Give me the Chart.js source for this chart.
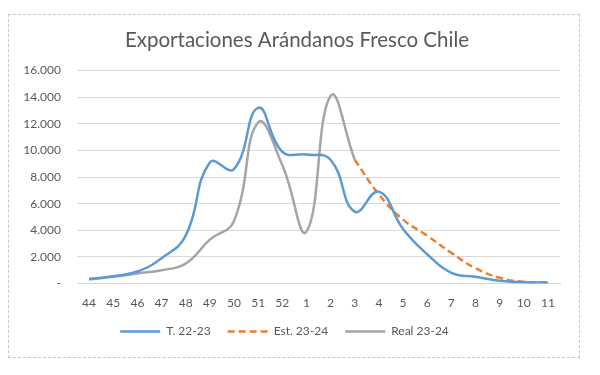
<!DOCTYPE html>
<html>
<head>
<meta charset="utf-8">
<script src="https://cdn.jsdelivr.net/npm/chart.js@4"></script>
<style>
  body { margin: 0; background: #fff; }
  #box {
    position: absolute; left: 8px; top: 14px;
    width: 572px; height: 344px;
    border: 1px dashed #c8c8c8;
    box-sizing: border-box;
  }
</style>
</head>
<body>
<div id="box"><canvas id="myChart"></canvas></div>
<script>
// weeks of the season
const weeks = ['44','45','46','47','48','49','50','51','52','1','2','3','4','5','6','7','8','9','10','11'];

// tonnes per week
const temporada2223 = [350, 550, 900, 1900, 3600, 9100, 8600, 13200, 9900, 9700, 9300, 5400, 6900, 4100, 2200, 800, 500, 200, 100, 80];
const est2324 = [null, null, null, null, null, null, null, null, null, null, null, 9300, 6700, 4800, 3600, 2300, 1150, 430, 130, 80];
const real2324 = [300, 500, 760, 1000, 1500, 3300, 4700, 12100, 8900, 3900, 14100, 9300, null, null, null, null, null, null, null, null];

const yTickLabels = ['-', '2.000', '4.000', '6.000', '8.000', '10.000', '12.000', '14.000', '16.000'];

const grey = '#595959';
const font = 'Lato, Carlito, "Open Sans", sans-serif';

// the excel title sits a bit right of the canvas centre
const shiftTitle = {
  id: 'shiftTitle',
  afterLayout(chart) {
    if (chart.titleBlock) chart.titleBlock.left += 25;
  }
};

const myChart = document.getElementById('myChart');

new Chart(myChart, {
  type: 'line',
  data: {
    labels: weeks,
    datasets: [
      {
        label: 'T. 22-23',
        data: temporada2223,
        borderColor: '#5B9BD5',
        backgroundColor: 'transparent',
        borderWidth: 2.5,
        pointRadius: 0,
        pointStyle: 'line',
        tension: 0.45
      },
      {
        label: 'Est. 23-24',
        data: est2324,
        borderColor: '#ED7D31',
        backgroundColor: 'transparent',
        borderWidth: 2.5,
        borderDash: [7, 4],
        pointRadius: 0,
        pointStyle: 'line',
        tension: 0.45
      },
      {
        label: 'Real 23-24',
        data: real2324,
        borderColor: '#A5A5A5',
        backgroundColor: 'transparent',
        borderWidth: 2.5,
        pointRadius: 0,
        pointStyle: 'line',
        tension: 0.45
      }
    ]
  },
  options: {
    responsive: true,
    maintainAspectRatio: false,
    animation: false,
    layout: { padding: { left: 0, right: 19, top: 0, bottom: 9.5 } },
    plugins: {
      title: {
        display: true,
        text: 'Exportaciones Arándanos Fresco Chile',
        color: grey,
        font: { family: font, size: 20.5, weight: 'normal' },
        padding: { top: 13, bottom: 18 }
      },
      legend: {
        position: 'bottom',
        labels: {
          color: grey,
          font: { family: font, size: 12 },
          usePointStyle: true,
          pointStyleWidth: 40,
          boxHeight: 12,
          padding: 17,
          // point style legend loses the dash, put it back
          generateLabels: (chart) => {
            const items = Chart.defaults.plugins.legend.labels.generateLabels(chart);
            items.forEach(item => {
              const ds = chart.data.datasets[item.datasetIndex];
              item.lineDash = ds.borderDash || [];
              item.strokeStyle = ds.borderColor;
              item.lineWidth = 2.5;
            });
            return items;
          }
        }
      },
      tooltip: { enabled: false }
    },
    scales: {
      x: {
        offset: true,
        afterFit: (scale) => { scale.height = 25; },
        grid: { display: false, drawTicks: false },
        border: { color: '#d9d9d9' },
        ticks: {
          color: grey,
          font: { family: font, size: 12 },
          padding: 12,
          maxRotation: 0,
          autoSkip: false
        }
      },
      y: {
        min: 0,
        max: 16000,
        afterFit: (scale) => { scale.width = 68; },
        grid: { color: '#d9d9d9', drawTicks: false, lineWidth: 1 },
        border: { display: false },
        ticks: {
          stepSize: 2000,
          color: grey,
          font: { family: font, size: 12 },
          padding: 16,
          callback: (v, i) => yTickLabels[i]
        }
      }
    }
  },
  plugins: [shiftTitle]
});
</script>
</body>
</html>
